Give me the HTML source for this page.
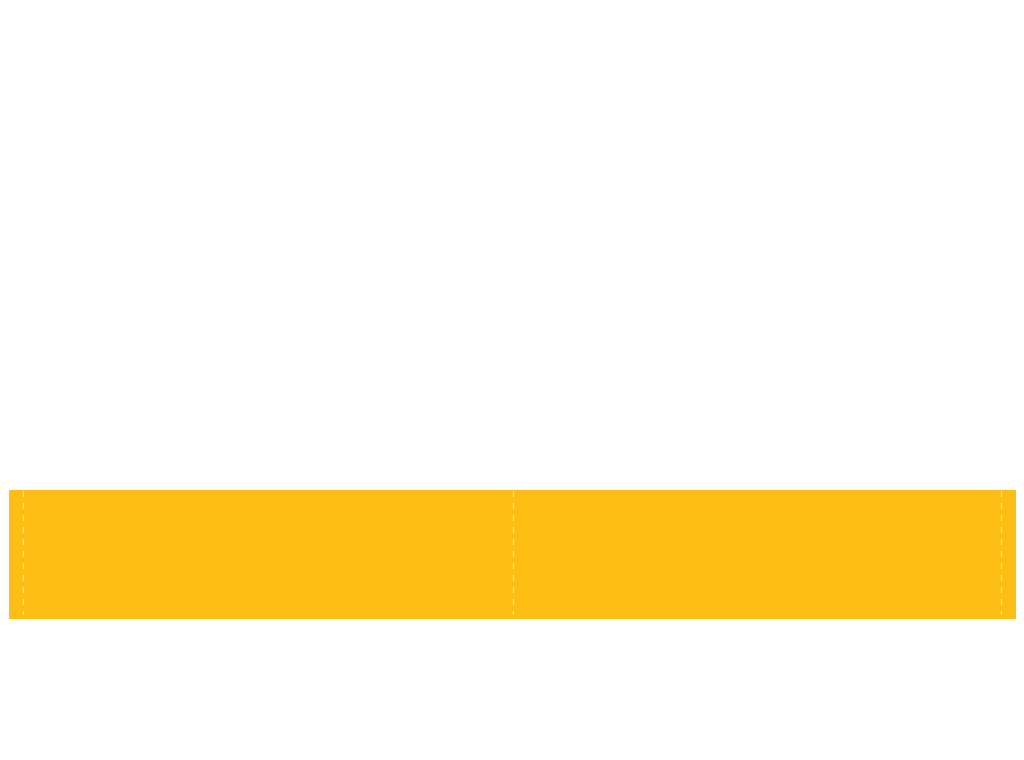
<!DOCTYPE html>
<html><head><style>html,body{margin:0;padding:0;background:#fff;width:1024px;height:760px;overflow:hidden}</style></head>
<body>
<svg width="1024" height="760" xmlns="http://www.w3.org/2000/svg">
<rect x="9" y="490" width="1007" height="129" fill="#fdbf14"/>
<g stroke="#fde7a8" stroke-width="1.2" stroke-dasharray="6,6">
<line x1="23.5" y1="491" x2="23.5" y2="615"/>
<line x1="513.5" y1="491" x2="513.5" y2="615"/>
<line x1="1001.5" y1="491" x2="1001.5" y2="615"/>
</g>
</svg>
</body></html>
